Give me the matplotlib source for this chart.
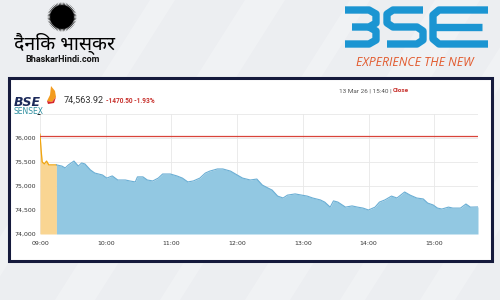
import numpy as np
import matplotlib
matplotlib.use('Agg')
import matplotlib.pyplot as plt
from matplotlib.patches import Rectangle, Polygon

# pre-open session (orange)
pre_times = ['09:00', '09:01', '09:02', '09:04', '09:06', '09:08', '09:12', '09:15']
pre_vals = [76080, 75750, 75500, 75460, 75520, 75440, 75440, 75440]

# regular session (blue)
times = ['09:15', '09:20', '09:23', '09:26', '09:31', '09:35', '09:38', '09:41', '09:46', '09:50',
         '09:57', '10:01', '10:06', '10:11', '10:18', '10:22', '10:27', '10:29', '10:34', '10:38',
         '10:43', '10:48', '10:52', '10:59', '11:05', '11:10', '11:15', '11:20', '11:26', '11:31',
         '11:35', '11:42', '11:47', '11:54', '12:00', '12:05', '12:12', '12:18', '12:23', '12:28',
         '12:32', '12:37', '12:42', '12:46', '12:53', '12:59', '13:04', '13:09', '13:16', '13:20',
         '13:25', '13:28', '13:32', '13:39', '13:45', '13:50', '13:55', '14:00', '14:06', '14:10',
         '14:15', '14:21', '14:26', '14:33', '14:38', '14:44', '14:50', '14:54', '14:59', '15:03',
         '15:07', '15:13', '15:17', '15:24', '15:29', '15:33', '15:40']
values = [75440, 75415, 75375, 75440, 75520, 75415, 75480, 75460, 75335, 75270,
          75230, 75165, 75210, 75125, 75125, 75105, 75085, 75190, 75190, 75125,
          75105, 75165, 75250, 75250, 75210, 75165, 75085, 75105, 75165, 75270,
          75310, 75355, 75355, 75310, 75230, 75165, 75125, 75145, 75020, 74960,
          74915, 74790, 74750, 74810, 74835, 74810, 74790, 74750, 74710, 74665,
          74560, 74690, 74665, 74560, 74585, 74560, 74540, 74500, 74560, 74665,
          74710, 74790, 74750, 74875, 74810, 74750, 74730, 74645, 74605, 74540,
          74520, 74560, 74540, 74540, 74625, 74560, 74564]

prev_close = 76034.42
last_value = '74,563.92'
change_text = '-1470.50 -1.93%'
stamp_text = '13 Mar 26 | 15:40 | '
hour_labels = ['09:00', '10:00', '11:00', '12:00', '13:00', '14:00', '15:00']
y_ticks = [74000, 74500, 75000, 75500, 76000]


def to_min(t):
    """minutes since 09:00"""
    h, m = t.split(':')
    return (int(h) - 9) * 60 + int(m)


fig = plt.figure(figsize=(5, 3), dpi=100)
fig.patch.set_facecolor('#eceef1')

# page layer in pixel coordinates
bg = fig.add_axes([0, 0, 1, 1], zorder=0)
bg.set_xlim(0, 500)
bg.set_ylim(300, 0)
bg.axis('off')

for x0, w in [(-40, 25), (55, 40), (160, 20), (245, 45), (340, 25), (420, 35)]:
    bg.add_patch(Polygon([(x0, 300), (x0 + w, 300), (x0 + w + 190, 0), (x0 + 190, 0)],
                         closed=True, color='white', alpha=0.25, lw=0))

# dainik bhaskar sun
ang = np.linspace(0, 2 * np.pi, 121)
rad = np.where(np.arange(121) % 2 == 0, 15, 11)
bg.add_patch(Polygon(np.c_[62 + rad * np.cos(ang), 17 + rad * np.sin(ang)],
                     closed=True, color='black', lw=0))
bg.add_patch(plt.Circle((62, 17), 11, color='black'))
bg.text(64, 44, 'दैनिक भास्कर', ha='center', va='center', fontsize=14, fontweight='black',
        family=['Noto Sans Devanagari', 'Yantramanav', 'DejaVu Sans'])
bg.text(63, 60, 'BhaskarHindi.com', ha='center', va='center', fontsize=6.5,
        fontweight='bold', family='Roboto', color='#111111')

# BSE logo
blue = '#1b95d2'
kw = dict(color=blue, lw=5.3, solid_capstyle='butt', solid_joinstyle='round')
bg.plot([345, 369, 376, 376, 369, 352], [10, 10, 14, 23, 27, 27], **kw)
bg.plot([369, 376, 376, 369, 345], [27, 31, 40, 44, 44], **kw)
bg.plot([423, 393, 387, 387, 393, 417, 423, 423, 417, 387],
        [10, 10, 14, 23, 27, 27, 31, 40, 44, 44], **kw)
bg.plot([488, 439, 433, 433, 439, 488], [10, 10, 15, 39, 44, 44], **kw)
bg.plot([433, 482], [27, 27], **kw)
bg.text(415, 63, 'EXPERIENCE THE NEW', ha='center', va='center', fontsize=8.8,
        fontstyle='italic', color='#e2592c', family='Open Sans')

# chart panel
bg.add_patch(Rectangle((9, 78), 483, 183, facecolor='white', edgecolor='#151a3c', lw=2.2))

# panel header
bg.text(14, 102, 'BSE', ha='left', va='center', fontsize=9, fontweight='bold',
        fontstyle='italic', color='#1c2a5a')
bg.add_patch(Polygon([(51, 86), (55, 91), (56, 97), (52, 102), (47, 101), (50, 95)],
                     closed=True, color='#f39c1f', lw=0))
bg.add_patch(Polygon([(47, 101), (52, 102), (56, 97), (54, 103), (48, 104)],
                     closed=True, color='#d8262b', lw=0))
bg.text(14, 112, 'SENSEX', ha='left', va='center', fontsize=5.5, color='#2f8fa0')
bg.text(64, 100, last_value, ha='left', va='center', fontsize=6.6, color='#333333',
        family='Roboto')
bg.text(106, 101, change_text, ha='left', va='center', fontsize=4.7, fontweight='bold',
        color='#c8312d', family='Roboto')
bg.text(393, 91, stamp_text, ha='right', va='center', fontsize=4.6, color='#555555',
        family='Roboto')
bg.text(393, 91, 'Close', ha='left', va='center', fontsize=4.6, fontweight='bold',
        color='#c8312d', family='Roboto')

# chart
ax = fig.add_axes([0.08, 0.22, 0.876, 0.4], zorder=2)
ax.set_facecolor('none')
px = [to_min(t) for t in pre_times]
sx = [to_min(t) for t in times]
ax.fill_between(px, 74000, pre_vals, color='#f9d592', lw=0)
ax.plot(px, pre_vals, color='#f0a510', lw=0.9)
ax.fill_between(sx, 74000, values, color='#92c8e2', lw=0)
ax.plot(sx, values, color='#6aaed4', lw=0.8)
ax.axhline(prev_close, color='#d8443a', lw=0.9)

ax.set_xlim(0, 400)
ax.set_ylim(74000, 76500)
ax.set_xticks([to_min(h) for h in hour_labels])
ax.set_xticklabels(hour_labels)
ax.set_yticks(y_ticks)
ax.set_yticklabels([f'{v:,}' for v in y_ticks])
ax.tick_params(length=0, labelsize=4.5, labelcolor='#333333')
ax.tick_params(axis='y', pad=3)
ax.tick_params(axis='x', pad=5)
ax.set_yticks([76500], minor=True)
ax.grid(True, which='both', color='#e8e8e8', lw=0.6)
ax.set_axisbelow(True)
for s in ax.spines.values():
    s.set_visible(False)

fig.savefig('out.png', dpi=100, facecolor=fig.get_facecolor())
